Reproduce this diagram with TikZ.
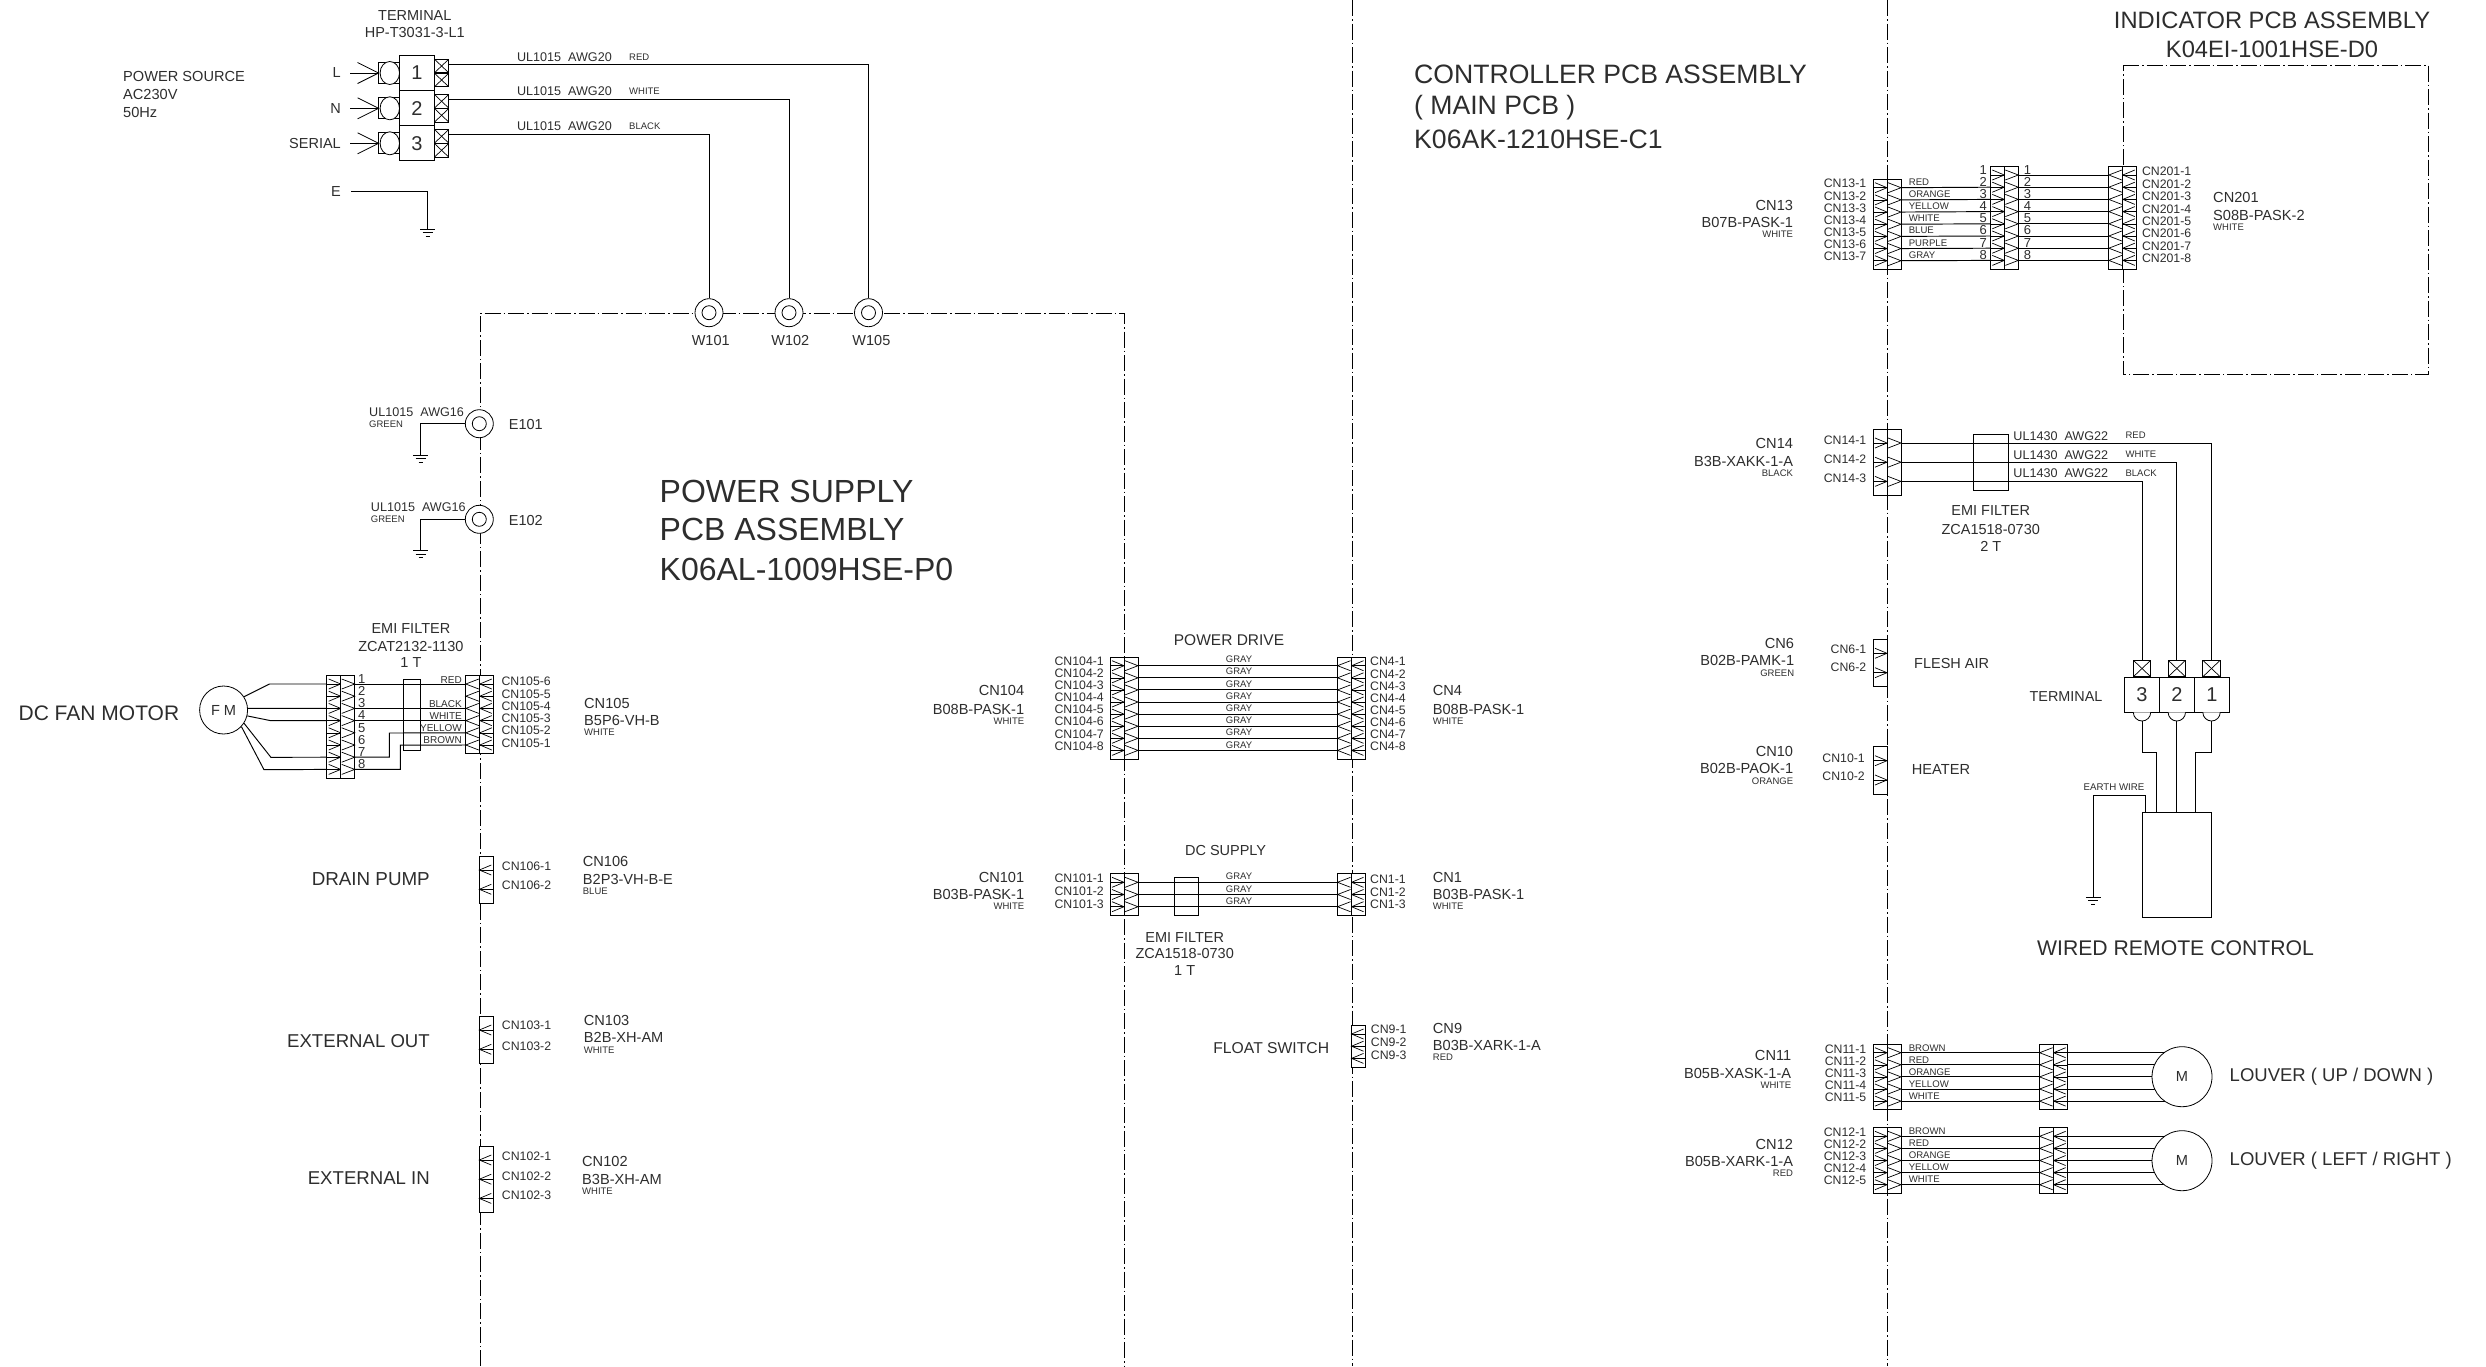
\documentclass[tikz,border=0pt]{standalone}
\usepackage{fontspec}
\setmainfont{Liberation Sans}
\usepackage{tikz}
\definecolor{ink}{RGB}{45, 45, 45}

\tikzset{
  lab/.style={font=\fontsize{#1}{#1}\selectfont, inner sep=0pt, text=ink},
  part/.style={draw=black, line width=0.8pt},
  wire/.style={draw=black, line width=0.95pt},
  boundary/.style={draw=black, line width=0.85pt, dash pattern=on 16pt off 3pt on 1.5pt off 3pt},
  termbox/.style={part, rectangle, minimum width=35pt, minimum height=35pt, inner sep=0pt, lab=20},
  xbox/.style={part, rectangle, inner sep=0pt, minimum width=#1, minimum height=#1*0.95,
    path picture={
      \draw[line width=0.7pt] (path picture bounding box.south west) -- (path picture bounding box.north east);
      \draw[line width=0.7pt] (path picture bounding box.north west) -- (path picture bounding box.south east);
    }},
  ringo/.style={part, circle, fill=white, minimum size=28pt, inner sep=0pt},
  ringi/.style={part, circle, minimum size=14pt, inner sep=0pt},
  motor/.style={part, circle, fill=white, minimum size=60pt, inner sep=0pt, lab=14.6}
}

\newcommand{\hw}{14}

\newcommand{\halfconn}[6]{
  \pgfmathsetmacro{\xo}{#2-#6*\hw}
  \pgfmathsetmacro{\xa}{#2-#6*(\hw-2)}
  \pgfmathsetmacro{\ytop}{#3-0.72*#5}
  \pgfmathsetmacro{\ybot}{#3+(#4-1)*#5+0.72*#5}
  \draw[part, fill=white] (\xo, \ytop) rectangle (#2, \ybot);
  \draw[part] (#2, \ytop) -- (#2, \ybot);
  \foreach \i in {1, ..., #4} {
    \pgfmathsetmacro{\yp}{#3+(\i-1)*#5}
    \coordinate (#1-\i) at (\xo, \yp);
    \draw[part, line width=0.6pt] (\xo, \yp) -- (#2, \yp);
    \draw[part, line width=0.7pt] (\xa, {\yp-5}) -- (#2, \yp) -- (\xa, {\yp+5});
  }
}

\newcommand{\fullconn}[6]{
  \halfconn{#1}{#2}{#3}{#4}{#5}{#6}
  \pgfmathsetmacro{\xe}{#2+#6*\hw}
  \pgfmathsetmacro{\xb}{#2+#6*1}
  \draw[part, fill=white] (#2, \ytop) rectangle (\xe, \ybot);
  \foreach \i in {1, ..., #4} {
    \pgfmathsetmacro{\yp}{#3+(\i-1)*#5}
    \coordinate (#1-\i-out) at (\xe, \yp);
    \draw[part, line width=0.7pt] (\xb, {\yp-5}) -- (\xe, \yp) -- (\xb, {\yp+5});
  }
}

\newcommand{\pinlabs}[7]{
  \foreach \i in {1, ..., #3} {
    \pgfmathsetmacro{\yl}{#6+(\i-1)*#7}
    \node[lab=12.3, anchor=#5] (#1-lab-\i) at (#4, \yl) {#2-\i};
  }
}

\newcommand{\conlabel}[9]{
  \node[lab=14.6, anchor=#3] (#1-a) at (#2, #4) {#7};
  \node[lab=14.6, anchor=#3] (#1-b) at (#2, #5) {#8};
  \node[lab=9.5, anchor=#3] (#1-c) at (#2, #6) {#9};
}

\newcommand{\gnd}[3]{
  \coordinate (#1) at (#2, #3);
  \draw[part] ({#2-7.5}, #3) -- ({#2+7.5}, #3);
  \draw[part] ({#2-5}, {#3+3.5}) -- ({#2+5}, {#3+3.5});
  \draw[part] ({#2-2}, {#3+7}) -- ({#2+2}, {#3+7});
}

\begin{document}
\begin{tikzpicture}[x=1pt, y=-1pt]
  \useasboundingbox (0, 0) rectangle (2486, 1366);

  \draw[boundary] (480, 1366) -- (480, 313) -- (1124, 313) -- (1124, 1366);
  \draw[boundary] (1352, 0) -- (1352, 1366);
  \draw[boundary] (1887, 0) -- (1887, 1366);
  \draw[boundary] (2123, 65) -- (2428, 65) -- (2428, 374) -- (2123, 374) -- cycle;

  \node[lab=26.6, anchor=west] (title-ctrl-a) at (1414, 74.5) {CONTROLLER PCB ASSEMBLY};
  \node[lab=26.6, anchor=west] (title-ctrl-b) at (1414, 108) {( MAIN PCB )};
  \node[lab=26.6, anchor=west] (title-ctrl-c) at (1414, 139.5) {K06AK-1210HSE-C1};
  \node[lab=23.7] (title-ind-a) at (2272, 20.6) {INDICATOR PCB ASSEMBLY};
  \node[lab=23.7] (title-ind-b) at (2272, 49) {K04EI-1001HSE-D0};
  \node[lab=32, anchor=west] (title-psu-a) at (659.5, 491) {POWER SUPPLY};
  \node[lab=32, anchor=west] (title-psu-b) at (659.5, 529.5) {PCB ASSEMBLY};
  \node[lab=32, anchor=west] (title-psu-c) at (659.5, 569) {K06AL-1009HSE-P0};

  \node[lab=14.6, anchor=west] (src-a) at (123, 76.7) {POWER SOURCE};
  \node[lab=14.6, anchor=west] (src-b) at (123, 94.3) {AC230V};
  \node[lab=14.6, anchor=west] (src-c) at (123, 112.3) {50Hz};
  \node[lab=14.5] (tb-a) at (414.8, 15.5) {TERMINAL};
  \node[lab=14.5] (tb-b) at (414.8, 32.8) {HP-T3031-3-L1};

  \foreach \w/\x in {w101/709, w102/789, w105/868.5} {
    \node[ringo] (\w) at (\x, 312.7) {};
    \node[ringi] (\w-in) at (\w) {};
  }
  \node[lab=14.5] (w101-lab) at (710.7, 341) {W101};
  \node[lab=14.5] (w102-lab) at (790.3, 341) {W102};
  \node[lab=14.5] (w105-lab) at (871.4, 341) {W105};

  \foreach \i/\yc/\nm/\yw/\yt/\c/\ww in {1/73/L/64/57.3/RED/w105, 2/108.3/N/99/91/WHITE/w102, 3/143.3/SERIAL/134/126/BLACK/w101} {
    \draw[part] (378.6, {\yc-10.5}) rectangle (399.5, {\yc+10.5});
    \draw[part, fill=white] (389.8, \yc) ellipse [x radius=9.7pt, y radius=11.5pt];
    \node[termbox] (tb\i) at (417, \yc) {\i};
    \node[xbox=14pt] (tb\i-xa) at (441.6, {\yc-7}) {};
    \node[xbox=14pt] (tb\i-xb) at (441.6, {\yc+7}) {};
    \coordinate (tb\i-in) at (350, \yc);
    \coordinate (tb\i-tip) at (378.6, \yc);
    \draw[wire] (tb\i-in) -- (tb\i-tip);
    \draw[part] (357.6, {\yc-10.5}) -- (tb\i-tip) -- (357.6, {\yc+10.5});
    \node[lab=14.5, anchor=east] (tb\i-lab) at (341, \yc) {\nm};
    \coordinate (tb\i-w) at (448.5, \yw);
    \draw[wire] (tb\i-w) -| (\ww);
    \node[lab=12.6, anchor=west] (tb\i-awg) at (516.8, \yt) {UL1015~~AWG20};
    \node[lab=9.5, anchor=west] (tb\i-col) at (629, \yt) {\c};
  }

  \node[lab=14.5] (e-lab) at (336, 191.3) {E};
  \coordinate (e-start) at (351, 191);
  \gnd{e-gnd}{427.6}{229.3}
  \draw[wire] (e-start) -| (e-gnd);

  \foreach \e/\y/\xl/\yu/\yg/\yb in {e101/423.7/369/412/424.3/455, e102/519.3/370.7/507.3/519.3/550.7} {
    \node[ringo] (\e) at (479.3, \y) {};
    \node[ringi] (\e-in) at (\e) {};
    \gnd{\e-gnd}{420.7}{\yb}
    \draw[wire] (\e) -| (\e-gnd);
    \node[lab=12.6, anchor=west] (\e-awg) at (\xl, \yu) {UL1015~~AWG16};
    \node[lab=9.5, anchor=west] (\e-col) at (\xl, \yg) {GREEN};
  }
  \node[lab=14.5, anchor=west] (e101-lab) at (508.7, 424) {E101};
  \node[lab=14.5, anchor=west] (e102-lab) at (508.7, 520.3) {E102};

  \node[lab=21, anchor=west] (fm-lab) at (18.4, 713.5) {DC FAN MOTOR};
  \node[part, circle, minimum size=48pt, inner sep=0pt, lab=14.6] (fm) at (223.6, 710) {F M};
  \fullconn{fmb}{340.7}{684}{8}{12.2}{1}
  \fullconn{cn105}{479.8}{684}{6}{12.2}{-1}
  \draw[part] (403.1, 679.3) rectangle (420.6, 750.7);
  \foreach \i in {1, ..., 8} {
    \pgfmathsetmacro{\yl}{679+(\i-1)*12.15}
    \node[lab=13, anchor=west] (fmb-num-\i) at (358, \yl) {\i};
  }
  \draw[wire] (fm.33) -- (269.5, 684) -- (fmb-1);
  \draw[wire] (fm.4) -- (fmb-3);
  \draw[wire] (fm.-14) -- (270.9, 720.7) -- (fmb-4);
  \draw[wire] (fm.-33) -- (270.9, 757.3) -- (fmb-7);
  \draw[wire] (fm.-43) -- (264, 769.7) -- (fmb-8);
  \draw[wire] (fmb-1-out) -- (cn105-1-out);
  \draw[wire] (fmb-3-out) -- (cn105-3-out);
  \draw[wire] (fmb-4-out) -- (cn105-4-out);
  \draw[wire] (fmb-7-out) -| (389.4, 733) -- (cn105-5-out);
  \draw[wire] (fmb-8-out) -| (400.4, 745.2) -- (cn105-6-out);
  \foreach \i/\c/\y in {1/RED/679.7, 3/BLACK/703.7, 4/WHITE/715.7, 5/YELLOW/727.7, 6/BROWN/739.7} {
    \node[lab=10, anchor=east] (cn105-col-\i) at (462, \y) {\c};
  }
  \foreach \i in {1, ..., 6} {
    \pgfmathtruncatemacro{\k}{7-\i}
    \pgfmathsetmacro{\yl}{681.7+(\i-1)*12.26}
    \node[lab=12.3, anchor=west] (cn105-lab-\i) at (501.4, \yl) {CN105-\k};
  }
  \conlabel{cn105-g}{584}{west}{703.3}{720}{732.7}{CN105}{B5P6-VH-B}{WHITE}
  \node[lab=14.5] (fmf-a) at (410.9, 628.5) {EMI FILTER};
  \node[lab=14.5] (fmf-b) at (410.9, 646) {ZCAT2132-1130};
  \node[lab=14.5] (fmf-c) at (410.9, 662.7) {1 T};

  \halfconn{cn106}{479.3}{870}{2}{19.3}{-1}
  \pinlabs{cn106}{CN106}{2}{501.7}{west}{866.7}{19}
  \node[lab=18.8, anchor=east] (cn106-name) at (430, 878.8) {DRAIN PUMP};
  \conlabel{cn106-g}{582.7}{west}{861.5}{879}{891.7}{CN106}{B2P3-VH-B-E}{BLUE}

  \halfconn{cn103}{479.3}{1030}{2}{19.3}{-1}
  \pinlabs{cn103}{CN103}{2}{501.7}{west}{1025.7}{21}
  \node[lab=18.6, anchor=east] (cn103-name) at (430, 1040.8) {EXTERNAL OUT};
  \conlabel{cn103-g}{583.7}{west}{1020}{1037}{1050.7}{CN103}{B2B-XH-AM}{WHITE}

  \halfconn{cn102}{479.3}{1160}{3}{19.2}{-1}
  \pinlabs{cn102}{CN102}{3}{501.7}{west}{1156.7}{19.1}
  \node[lab=18.6, anchor=east] (cn102-name) at (430, 1178) {EXTERNAL IN};
  \conlabel{cn102-g}{582}{west}{1161.5}{1179}{1191.7}{CN102}{B3B-XH-AM}{WHITE}

  \node[lab=15.5] (drive-lab) at (1229, 640) {POWER DRIVE};
  \fullconn{cn104}{1124}{665.7}{8}{12.1}{1}
  \fullconn{cn4}{1351.5}{665.7}{8}{12.1}{-1}
  \pinlabs{cn104}{CN104}{8}{1104}{east}{661}{12.14}
  \pinlabs{cn4}{CN4}{8}{1370}{west}{661.7}{12.15}
  \foreach \i in {1, ..., 8} {
    \pgfmathsetmacro{\yl}{659.4+(\i-1)*12.2}
    \draw[wire] (cn104-\i-out) -- (cn4-\i-out);
    \node[lab=9.5] (drive-col-\i) at (1239, \yl) {GRAY};
  }
  \conlabel{cn104-g}{1024.4}{east}{690.7}{709.3}{721.7}{CN104}{B08B-PASK-1}{WHITE}
  \conlabel{cn4-g}{1432.6}{west}{690.7}{709.3}{721.7}{CN4}{B08B-PASK-1}{WHITE}

  \node[lab=14.5] (dc-lab) at (1225.6, 850) {DC SUPPLY};
  \fullconn{cn101}{1124}{882.3}{3}{12.2}{1}
  \fullconn{cn1}{1351.5}{882.3}{3}{12.2}{-1}
  \draw[part] (1174.2, 877.3) rectangle (1198.6, 915.3);
  \pinlabs{cn101}{CN101}{3}{1104}{east}{878.7}{12.7}
  \pinlabs{cn1}{CN1}{3}{1370}{west}{879.7}{12.2}
  \foreach \i in {1, ..., 3} {
    \pgfmathsetmacro{\yl}{876.7+(\i-1)*12.5}
    \draw[wire] (cn101-\i-out) -- (cn1-\i-out);
    \node[lab=9.5] (dc-col-\i) at (1239, \yl) {GRAY};
  }
  \conlabel{cn101-g}{1024.4}{east}{877.3}{894}{906.7}{CN101}{B03B-PASK-1}{WHITE}
  \conlabel{cn1-g}{1432.6}{west}{877.3}{894}{906.7}{CN1}{B03B-PASK-1}{WHITE}
  \node[lab=14.5] (dcf-a) at (1184.7, 937.2) {EMI FILTER};
  \node[lab=14.5] (dcf-b) at (1184.7, 953.8) {ZCA1518-0730};
  \node[lab=14.5] (dcf-c) at (1184.7, 970) {1 T};

  \halfconn{cn9}{1351.5}{1034}{3}{12.2}{-1}
  \pinlabs{cn9}{CN9}{3}{1370.7}{west}{1029.3}{12.8}
  \node[lab=15.7, anchor=east] (cn9-name) at (1329.3, 1047.7) {FLOAT SWITCH};
  \conlabel{cn9-g}{1432.7}{west}{1028}{1045}{1057.3}{CN9}{B03B-XARK-1-A}{RED}

  \fullconn{cn13}{1887}{187.7}{7}{12.17}{1}
  \fullconn{imc}{2004.3}{175}{8}{12.2}{1}
  \fullconn{cn201}{2122.8}{175}{8}{12.2}{-1}
  \pinlabs{cn13}{CN13}{7}{1866.4}{east}{183.7}{12.1}
  \pinlabs{cn201}{CN201}{8}{2141.8}{west}{171.7}{12.4}
  \foreach \i/\c in {1/RED, 2/ORANGE, 3/YELLOW, 4/WHITE, 5/BLUE, 6/PURPLE, 7/GRAY} {
    \pgfmathtruncatemacro{\k}{\i+1}
    \pgfmathsetmacro{\yl}{182.3+(\i-1)*12.1}
    \draw[wire] (cn13-\i-out) -- (imc-\k);
    \node[lab=9.6, anchor=west] (cn13-col-\i) at (1908.6, \yl) {\c};
  }
  \foreach \i in {1, ..., 8} {
    \pgfmathsetmacro{\yl}{170+(\i-1)*12.1}
    \draw[wire] (imc-\i-out) -- (cn201-\i-out);
    \node[lab=13, anchor=east] (imc-numa-\i) at (1987, \yl) {\i};
    \node[lab=13, anchor=west] (imc-numb-\i) at (2023.6, \yl) {\i};
  }
  \conlabel{cn13-g}{1793.2}{east}{205.7}{222.3}{234.3}{CN13}{B07B-PASK-1}{WHITE}
  \conlabel{cn201-g}{2213}{west}{197.3}{215.7}{227.3}{CN201}{S08B-PASK-2}{WHITE}

  \fullconn{cn14}{1887}{443}{3}{19.2}{1}
  \pinlabs{cn14}{CN14}{3}{1866.4}{east}{440}{18.9}
  \conlabel{cn14-g}{1793.2}{east}{443}{461}{473.3}{CN14}{B3B-XAKK-1-A}{BLACK}
  \draw[part] (1973.6, 434.3) rectangle (2008.2, 490);
  \foreach \i/\yt/\c in {1/435.7/RED, 2/454.7/WHITE, 3/473.3/BLACK} {
    \node[lab=12.6, anchor=west] (cn14-awg-\i) at (2013.2, \yt) {UL1430~~AWG22};
    \node[lab=9.5, anchor=west] (cn14-col-\i) at (2125.4, \yt) {\c};
  }
  \node[lab=14.5] (cn14f-a) at (1990.7, 511) {EMI FILTER};
  \node[lab=14.5] (cn14f-b) at (1990.7, 529) {ZCA1518-0730};
  \node[lab=14.5] (cn14f-c) at (1990.7, 546) {2 T};

  \node[termbox] (t3) at (2141.8, 694.8) {3};
  \node[termbox] (t2) at (2176.8, 694.8) {2};
  \node[termbox] (t1) at (2211.8, 694.8) {1};
  \node[lab=14.4] (t-lab) at (2066, 697) {TERMINAL};
  \foreach \i/\x in {3/2142, 2/2176.8, 1/2211.5} {
    \node[xbox=17.5pt] (tx\i) at (\x, 668.5) {};
    \draw[part, fill=white] ({\x-8.7}, 712.3) arc (180:360:8.7pt);
    \coordinate (tb\i-b) at (\x, 720.7);
  }
  \draw[wire] (cn14-1-out) -| (tx1);
  \draw[wire] (cn14-2-out) -| (tx2);
  \draw[wire] (cn14-3-out) -| (tx3);
  \node[part, rectangle, minimum width=69.3pt, minimum height=104.3pt, inner sep=0pt] (remote) at (2176.65, 864.85) {};
  \coordinate (rem-a) at (2156, 812.7);
  \coordinate (rem-b) at (2176.8, 812.7);
  \coordinate (rem-c) at (2195.7, 812.7);
  \coordinate (rem-e) at (2145.3, 812.7);
  \draw[wire] (tb3-b) |- (2156, 752) -- (rem-a);
  \draw[wire] (tb2-b) -- (rem-b);
  \draw[wire] (tb1-b) |- (2195.7, 752) -- (rem-c);
  \gnd{rem-gnd}{2093.3}{897.3}
  \draw[wire] (rem-e) -- ++(0, -17) -| (rem-gnd);
  \node[lab=9.7] (rem-earth) at (2114, 787.3) {EARTH WIRE};
  \node[lab=21.2] (rem-lab) at (2175.5, 948.5) {WIRED REMOTE CONTROL};

  \halfconn{cn6}{1887}{653.3}{2}{19.4}{1}
  \pinlabs{cn6}{CN6}{2}{1866.4}{east}{649.7}{18}
  \conlabel{cn6-g}{1794.3}{east}{643}{660}{673.3}{CN6}{B02B-PAMK-1}{GREEN}
  \node[lab=14.5, anchor=west] (cn6-name) at (1914, 663) {FLESH AIR};

  \halfconn{cn10}{1887}{760.7}{2}{19.3}{1}
  \pinlabs{cn10}{CN10}{2}{1865}{east}{758.3}{18.4}
  \conlabel{cn10-g}{1793.3}{east}{751.5}{768.3}{781.7}{CN10}{B02B-PAOK-1}{ORANGE}
  \node[lab=14.6, anchor=west] (cn10-name) at (1911.7, 769.3) {HEATER};

  \foreach \m/\cy/\yp/\yl/\yc in {11/1076.7/1052.7/1049/1047.7, 12/1160.7/1136.3/1132.3/1131} {
    \fullconn{cn\m}{1887}{\yp}{5}{12.1}{1}
    \fullconn{im\m}{2053.6}{\yp}{5}{12.1}{-1}
    \coordinate (mot\m-c) at (2182, \cy);
    \pinlabs{cn\m}{CN\m}{5}{1866.4}{east}{\yl}{12.1}
    \foreach \i/\c in {1/BROWN, 2/RED, 3/ORANGE, 4/YELLOW, 5/WHITE} {
      \pgfmathsetmacro{\yn}{\yc+(\i-1)*12.1}
      \draw[wire] (cn\m-\i-out) -- (im\m-\i-out);
      \draw[wire] (im\m-\i) -- (im\m-\i -| mot\m-c);
      \node[lab=9.6, anchor=west] (cn\m-col-\i) at (1908.6, \yn) {\c};
    }
    \node[motor] (mot\m) at (mot\m-c) {M};
  }
  \conlabel{cn11-g}{1791.4}{east}{1055.5}{1073.3}{1085.7}{CN11}{B05B-XASK-1-A}{WHITE}
  \conlabel{cn12-g}{1793.2}{east}{1144.5}{1161}{1173.3}{CN12}{B05B-XARK-1-A}{RED}
  \node[lab=18.5, anchor=west] (mot11-lab) at (2229.5, 1076.3) {LOUVER ( UP / DOWN )};
  \node[lab=18.5, anchor=west] (mot12-lab) at (2229.5, 1161) {LOUVER ( LEFT / RIGHT )};
\end{tikzpicture}
\end{document}
